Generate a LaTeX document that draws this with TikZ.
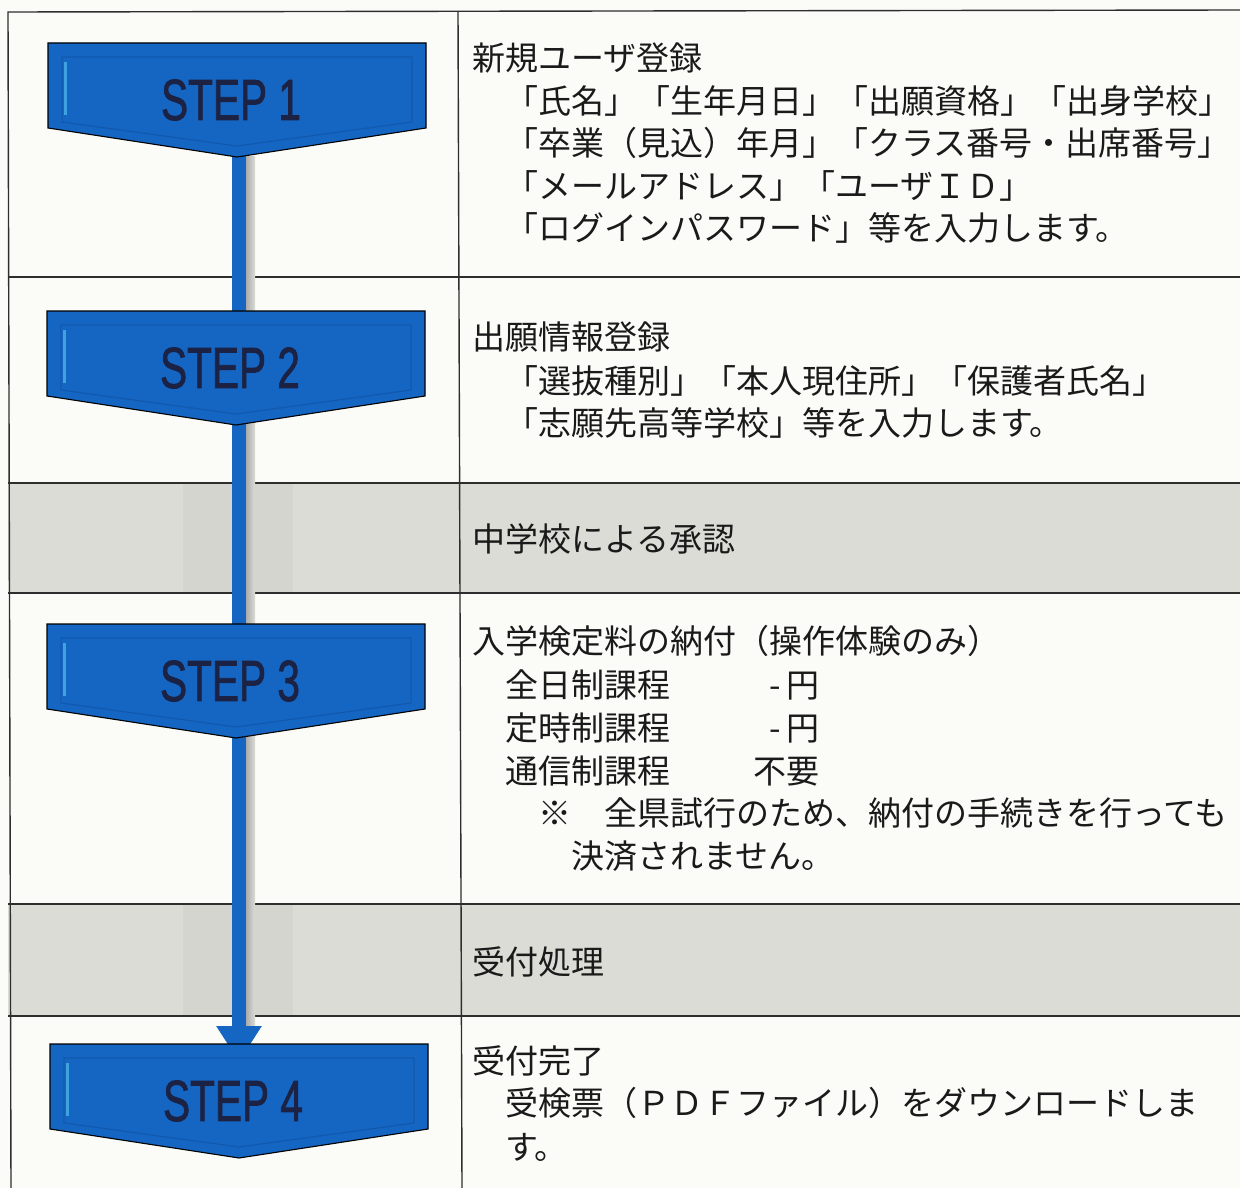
\documentclass[tikz,border=0pt]{standalone}
\usepackage{fontspec}
\usepackage{graphicx}
\setmainfont{Liberation Sans}
\newfontfamily\jpfont{Noto Sans CJK JP}
\newfontfamily\stepfont[FakeBold=1.6]{Liberation Sans}
\usetikzlibrary{arrows.meta}
\definecolor{bgcol}{HTML}{FBFBF7}
\definecolor{rowgray}{HTML}{DCDCD6}
\definecolor{rowgraydark}{HTML}{D5D5CF}
\definecolor{gridcol}{HTML}{2E2E2E}
\definecolor{stepblue}{HTML}{1565C2}
\definecolor{stepedge}{HTML}{1259AE}
\definecolor{stephi}{HTML}{3FA2E0}
\definecolor{navy}{HTML}{1B2244}
\definecolor{inkcol}{HTML}{1A1A1A}
\tikzset{
  txt/.style={anchor=base west, inner sep=0pt, text=inkcol,
              font=\jpfont\fontsize{33}{43}\selectfont},
  steplabel/.style={inner sep=0pt, text=navy, font=\stepfont\fontsize{58}{58}\selectfont},
  gridline/.style={draw=gridcol, line width=1.4pt},
  badgeshape/.style={fill=stepblue, draw=black, line width=1.1pt, line join=miter},
  bevel/.style={draw=stepedge, line width=1.2pt},
  connector/.style={draw=stepblue, line width=14.5pt,
                    -{Triangle[width=43pt,length=36pt]}},
}
\newcommand\stepbadge[4]{%
  \path[badgeshape] (#2,#3) -- ++(378,0) -- ++(0,85) -- ++(-189,29) -- ++(-189,-29) -- cycle;
  \path[bevel] ({#2+14},{#3+14}) -- ({#2+364},{#3+14}) -- ({#2+364},{#3+79})
     -- ({#2+189},{#3+103}) -- ({#2+14},{#3+79}) -- cycle;
  \draw[stephi, line width=3pt] ({#2+17},{#3+19}) -- ({#2+17},{#3+72});
  \node[steplabel] (#1) at ({#2+183},{#3+57}) {\scalebox{0.70}[1]{STEP #4}};
  \coordinate (#1top) at ({#2+189},#3);
  \coordinate (#1tip) at ({#2+189},{#3+114});
}
\begin{document}
\begin{tikzpicture}[x=1pt,y=-1pt]
\useasboundingbox (0,0) rectangle (1240,1188);
\fill[bgcol] (0,0) rectangle (1240,1188);
% shaded rows
\fill[rowgray] (8,483) rectangle (1240,593);
\fill[rowgray] (8,904) rectangle (1240,1016);
\fill[rowgraydark] (183,483) rectangle (293,593);
\fill[rowgraydark] (183,904) rectangle (293,1016);
% grid
\draw[gridline] (1240,10) -- (8,12) -- (11,1188);
\draw[gridline] (458,12) -- (462,1188);
\foreach \yy in {277,483,593,904,1016}{
  \draw[gridline] (8,\yy) -- (1240,\yy);
}
% connector shadow
\shade[left color=black!35, right color=bgcol!0!rowgray] (245,157) rectangle (255,1030);
\coordinate (s4arrow) at (239,1062);
\coordinate (s1start) at (239,150);
\draw[connector] (s1start) -- (s4arrow);
\stepbadge{s1}{48}{43}{1}
\stepbadge{s2}{47}{311}{2}
\stepbadge{s3}{47}{624}{3}
\stepbadge{s4}{50}{1044}{4}
% row 1
\node[txt] (r1h) at (472,71) {新規ユーザ登録};
\node[txt] (r1a) at (472,113.5) {　「氏名」「生年月日」「出願資格」「出身学校」};
\node[txt] (r1b) at (472,156) {　「卒業（見込）年月」「クラス番号・出席番号」};
\node[txt] (r1c) at (472,198) {　「メールアドレス」「ユーザＩＤ」};
\node[txt] (r1d) at (472,240) {　「ログインパスワード」等を入力します。};
% row 2
\node[txt] (r2h) at (472,349.5) {出願情報登録};
\node[txt] (r2a) at (472,393) {　「選抜種別」「本人現住所」「保護者氏名」};
\node[txt] (r2b) at (472,435.5) {　「志願先高等学校」等を入力します。};
% row 3
\node[txt] (r3h) at (472,551) {中学校による承認};
% row 4
\node[txt] (r4h) at (472,653.5) {入学検定料の納付（操作体験のみ）};
\node[txt] (r4a) at (472,697) {　全日制課程};
\node[txt, anchor=base east] (r4av) at (820,697) {-\hspace{6pt}円};
\node[txt] (r4b) at (472,740) {　定時制課程};
\node[txt, anchor=base east] (r4bv) at (820,740) {-\hspace{6pt}円};
\node[txt] (r4c) at (472,783) {　通信制課程};
\node[txt, anchor=base east] (r4cv) at (820,783) {不要};
\node[txt] (r4d) at (472,825.5) {　　※　全県試行のため、納付の手続きを行っても};
\node[txt] (r4e) at (472,868) {　　　決済されません。};
% row 5
\node[txt] (r5h) at (472,974) {受付処理};
% row 6
\node[txt] (r6h) at (472,1073.5) {受付完了};
\node[txt] (r6a) at (472,1115.5) {　受検票（ＰＤＦファイル）をダウンロードしま};
\node[txt] (r6b) at (472,1159) {　す。};
\end{tikzpicture}
\end{document}
